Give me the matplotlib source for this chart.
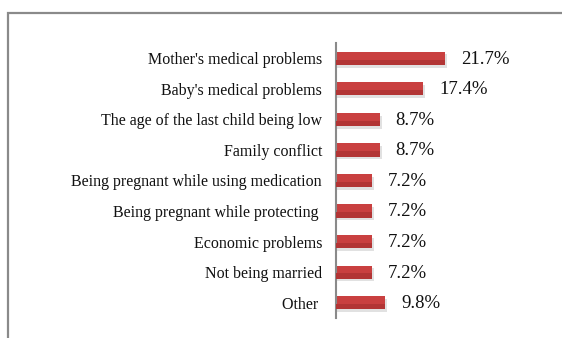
import matplotlib
matplotlib.use("Agg")
import matplotlib.pyplot as plt
from matplotlib.patches import Rectangle

categories = ["Mother's medical problems", "Baby's medical problems",
              "The age of the last child being low", "Family conflict",
              "Being pregnant while using medication",
              "Being pregnant while protecting ", "Economic problems",
              "Not being married", "Other "]
values = [21.7, 17.4, 8.7, 8.7, 7.2, 7.2, 7.2, 7.2, 9.8]
value_labels = ["21.7%", "17.4%", "8.7%", "8.7%", "7.2%", "7.2%", "7.2%", "7.2%", "9.8%"]

plt.rcParams['font.family'] = ['Liberation Serif', 'DejaVu Serif']

W, H = 562, 338
fig = plt.figure(figsize=(W/100, H/100), dpi=100)
fig.patches.append(Rectangle((8/W, -0.2), 1.2, 1.2 - 13/H, transform=fig.transFigure,
                             fill=False, edgecolor='#8a8a8a', linewidth=1.6))

ax = fig.add_axes([336/W, 20/H, 225/W, 275/H])
ypos = list(range(len(categories)))[::-1]
bar_h = 0.43
# soft shadow
ax.barh([y - 0.09 for y in ypos], [v + 0.4 for v in values], height=bar_h,
        color='#d5d5d5', alpha=0.7, zorder=1)
ax.barh(ypos, values, height=bar_h, color='#c94040', zorder=2)
ax.barh([y - bar_h*0.3 for y in ypos], values, height=bar_h*0.4, color='#b23535', zorder=3)

px_per_unit = 109/21.7
ax.set_xlim(0, 225/px_per_unit)
ax.set_ylim(-0.5, 8.5)
for y, v, lab in zip(ypos, values, value_labels):
    ax.text(v + 16/px_per_unit, y - 0.03, lab, va='center', ha='left', fontsize=13.5, color='#111111')

ax.set_yticks(ypos)
ax.set_yticklabels(categories, fontsize=11.5, color='#111111')
ax.tick_params(axis='y', length=0, pad=10)
ax.set_xticks([])
for s in ['top', 'right', 'bottom']:
    ax.spines[s].set_visible(False)
ax.spines['left'].set_color('#8a8a8a')
ax.spines['left'].set_linewidth(1.5)
ax.set_facecolor('none')

fig.savefig('out.png', dpi=100)
